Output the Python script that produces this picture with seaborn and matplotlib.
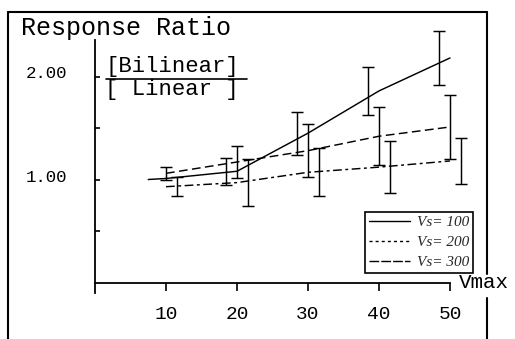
import numpy as np
import pandas as pd
import matplotlib
matplotlib.use("Agg")
import matplotlib.pyplot as plt
from matplotlib.lines import Line2D
from matplotlib.transforms import ScaledTranslation
import seaborn as sns

# Response ratio (bilinear / linear) against Vmax for three Vs values
vmax = [10, 20, 30, 40, 50]
ratio_vs100 = [1.01, 1.08, 1.45, 1.86, 2.18]
err_vs100 = [0.00, 0.13, 0.21, 0.23, 0.26]
ratio_vs200 = [1.06, 1.17, 1.28, 1.42, 1.51]
err_vs200 = [0.06, 0.16, 0.255, 0.28, 0.31]
ratio_vs300 = [0.93, 0.97, 1.07, 1.12, 1.18]
err_vs300 = [0.095, 0.23, 0.235, 0.25, 0.22]
# the Vs=100 curve is drawn from a little below the first Vmax
vs100_start_vmax = 7.5
vs100_start_ratio = 1.00

series_labels = ["Vs= 100", "Vs= 200", "Vs= 300"]
x_ticks = [10, 20, 30, 40, 50]
y_ticks = [0.5, 1.0, 1.5, 2.0]
y_ticklabels = ["", "1.00", "", "2.00"]

sns.set_theme(style="ticks")
plt.rcParams["font.family"] = ["Liberation Mono", "DejaVu Sans"]

W, H = 515, 339
fig = plt.figure(figsize=(W / 100, H / 100), dpi=100)
fig.patch.set_facecolor("white")


def fx(px):
    return px / W


def fy(py):
    return 1 - py / H


Y_LO, Y_HI = -0.1, 2.5
ax_bottom_px, ax_top_px = 292.8, 282.5 - Y_HI * 103
ax = fig.add_axes([fx(95), fy(ax_bottom_px), fx(390.5), (ax_bottom_px - ax_top_px) / H])
ax.set_facecolor("white")

# long-form table for the curves
rows = [(vs100_start_vmax, vs100_start_ratio, series_labels[0])]
rows += [(v, r, series_labels[0]) for v, r in zip(vmax, ratio_vs100)]
rows += [(v, r, series_labels[1]) for v, r in zip(vmax, ratio_vs200)]
rows += [(v, r, series_labels[2]) for v, r in zip(vmax, ratio_vs300)]
df = pd.DataFrame(rows, columns=["Vmax", "Ratio", "Series"])

line_dashes = {series_labels[0]: "", series_labels[1]: (6, 3), series_labels[2]: (6, 2.4, 2, 2.4)}
sns.lineplot(data=df, x="Vmax", y="Ratio", style="Series", dashes=line_dashes,
             color="black", linewidth=1.05, estimator=None, legend=False, ax=ax)

# error bars, dodged sideways so the three series stay readable
dodge = {series_labels[0]: -1.5, series_labels[1]: 0.0, series_labels[2]: 1.5}
for lab, r, e in [(series_labels[0], ratio_vs100, err_vs100),
                  (series_labels[1], ratio_vs200, err_vs200),
                  (series_labels[2], ratio_vs300, err_vs300)]:
    x = np.array(vmax, dtype=float) + dodge[lab]
    r = np.array(r)
    e = np.array(e)
    keep = e > 0
    ax.errorbar(x[keep], r[keep], yerr=e[keep], fmt="none", ecolor="black",
                elinewidth=1.05, capsize=4.6, capthick=1.05)

ax.set_xlim(0, 55)
ax.set_ylim(Y_LO, Y_HI)
ax.set_xlabel("")
ax.set_ylabel("")

for s in ["top", "right"]:
    ax.spines[s].set_visible(False)
ax.spines["bottom"].set_position(("data", 0))
ax.spines["bottom"].set_bounds(0, 50)
ax.spines["left"].set_bounds(Y_LO, 2.35)
for s in ["left", "bottom"]:
    ax.spines[s].set_color("black")
    ax.spines[s].set_linewidth(1.3)

ax.set_xticks(x_ticks)
ax.set_xticklabels([str(t) for t in x_ticks])
ax.set_yticks(y_ticks)
ax.set_yticklabels(y_ticklabels)
ax.tick_params(axis="x", direction="out", length=6, width=1.2, color="black",
               pad=11, labelsize=14, labelcolor="black")
ax.tick_params(axis="y", direction="in", length=3.6, width=1.2, color="black",
               pad=20, labelsize=12.5, labelcolor="black")
for lbl in ax.get_yticklabels():
    lbl.set_transform(lbl.get_transform() + ScaledTranslation(0, 4 / 100, fig.dpi_scale_trans))

# legend with its own line samples
handles = [
    Line2D([], [], color="black", lw=1.0, linestyle="-"),
    Line2D([], [], color="black", lw=1.0, linestyle=(0, (2.2, 2.2))),
    Line2D([], [], color="black", lw=1.0, linestyle=(0, (7, 1.5))),
]
leg = ax.legend(handles, series_labels, loc="upper right",
                bbox_to_anchor=((473 - 95) / 390.5, (ax_bottom_px - 212) / (ax_bottom_px - ax_top_px)),
                borderaxespad=0, frameon=True, fancybox=False, framealpha=1,
                handlelength=2.7, handletextpad=0.5, borderpad=0.22,
                labelspacing=0.42, prop={"family": "Liberation Serif", "style": "italic", "size": 11})
leg.get_frame().set_edgecolor("black")
leg.get_frame().set_linewidth(1.2)

# titles and axis names
fig.text(fx(21), fy(35), "Response Ratio", fontsize=18, va="baseline", ha="left", color="black")
fig.text(fx(105), fy(72), "[Bilinear]", fontsize=16, va="baseline", ha="left", color="black")
fig.text(fx(105), fy(95), "[ Linear ]", fontsize=16, va="baseline", ha="left", color="black")
fig.add_artist(Line2D([fx(106), fx(247)], [fy(78.5), fy(78.5)], color="black", lw=1.2))
fig.text(fx(459), fy(288), "Vmax", fontsize=15, va="baseline", ha="left", color="black")

# outer frame around the panel
frame_kw = dict(color="black", lw=1.5)
fig.add_artist(Line2D([fx(8), fx(8)], [fy(12), fy(339)], **frame_kw))
fig.add_artist(Line2D([fx(8), fx(487)], [fy(12), fy(12)], **frame_kw))
fig.add_artist(Line2D([fx(487), fx(487)], [fy(12), fy(274)], **frame_kw))
fig.add_artist(Line2D([fx(487), fx(487)], [fy(298), fy(339)], **frame_kw))

fig.savefig("out.png", dpi=100, facecolor="white")
